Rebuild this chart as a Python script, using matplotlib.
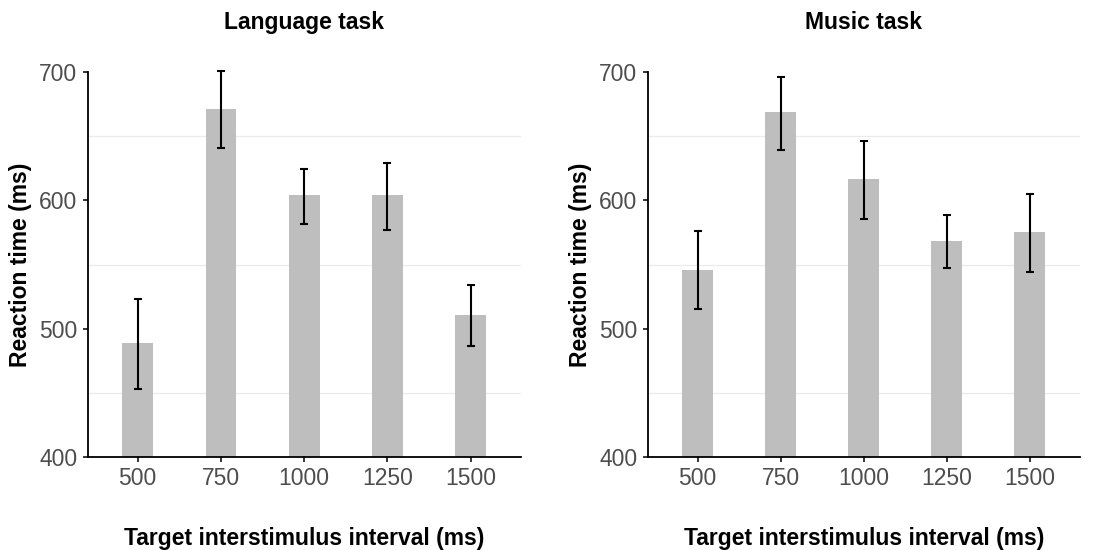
import matplotlib
matplotlib.use("Agg")
from matplotlib import pyplot as plt

plt.rcParams['font.family'] = ['Liberation Sans', 'DejaVu Sans']

intervals = ['500', '750', '1000', '1250', '1500']

lang_mean = [489, 671.5, 604, 604, 510.5]
lang_low = [453, 640.5, 581.5, 577, 486.5]
lang_high = [523, 700.5, 624.5, 629, 534]

music_mean = [546, 668.5, 617, 568.5, 575]
music_low = [515.5, 639.5, 585.5, 547.5, 544]
music_high = [576, 696.5, 646, 588.5, 605]

panels = [
    ('Language task', lang_mean, lang_low, lang_high),
    ('Music task', music_mean, music_low, music_high),
]

fig = plt.figure(figsize=(10.99, 5.5), dpi=100)
positions = [[0.0798, 0.169, 0.394, 0.70], [0.5894, 0.169, 0.393, 0.70]]

for pos, (title, mean, low, high) in zip(positions, panels):
    ax = fig.add_axes(pos)
    x = range(len(intervals))
    err = [[m - l for m, l in zip(mean, low)], [h - m for m, h in zip(mean, high)]]
    ax.bar(x, [m - 400 for m in mean], bottom=400, width=0.37, color='#bebebe', zorder=2)
    eb = ax.errorbar(x, mean, yerr=err, fmt='none', ecolor='black', elinewidth=1.5,
                     capsize=3, capthick=1.5, zorder=3)
    for artist in eb.lines[1] + eb.lines[2]:
        artist.set_clip_on(False)
    for g in [450, 550, 650]:
        ax.axhline(g, color='#ebebeb', lw=0.9, zorder=1)
    ax.set_xlim(-0.6, 4.6)
    ax.set_ylim(400, 700)
    ax.set_xticks(list(x))
    ax.set_xticklabels(intervals)
    ax.set_yticks([400, 500, 600, 700])
    for s in ['top', 'right']:
        ax.spines[s].set_visible(False)
    for s in ['left', 'bottom']:
        ax.spines[s].set_linewidth(1.3)
    ax.tick_params(labelsize=16.5, labelcolor='#4d4d4d', length=3.5, width=1.1, pad=4)
    ax.set_title(title, fontsize=16.5, fontweight='bold', pad=31)
    ax.set_xlabel('Target interstimulus interval (ms)', fontsize=16.5, fontweight='bold')
    ax.set_ylabel('Reaction time (ms)', fontsize=16.5, fontweight='bold')
    ax.xaxis.set_label_coords(0.5, -0.181)
    ax.yaxis.set_label_coords(-0.129, 0.5)

fig.savefig('out.png', dpi=100)
